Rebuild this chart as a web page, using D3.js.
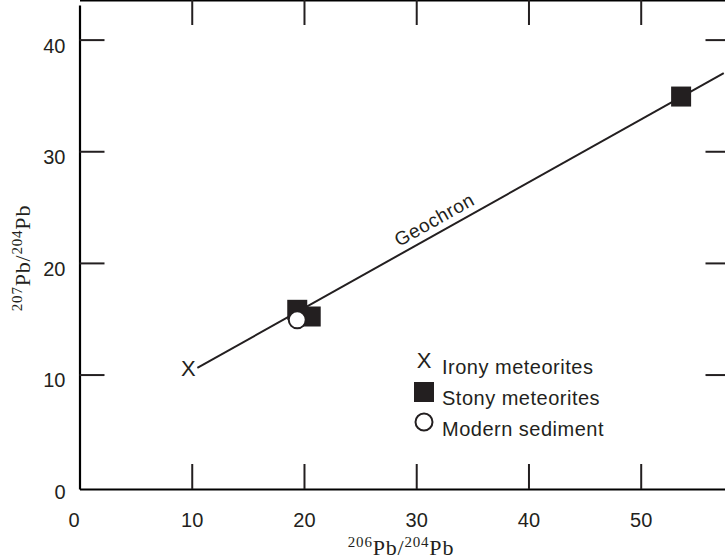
<!DOCTYPE html>
<meta charset="utf-8">
<style>
body { margin: 0; background: #fff; }
svg { display: block; }
.tick line { stroke: #231f20; stroke-width: 2px; }
.domain { stroke: #000; stroke-width: 2.2px; }
.tick text { font-family: "Liberation Sans", Arial, sans-serif; font-size: 20px; fill: #231f20; }
.legend text { font-family: "Liberation Sans", Arial, sans-serif; font-size: 20px; fill: #231f20; letter-spacing: 0.5px; }
.title { font-family: "Liberation Serif", "Times New Roman", serif; fill: #231f20; }
</style>
<svg width="725" height="560"></svg>
<script src="https://cdn.jsdelivr.net/npm/d3@7"></script>
<script>

// tick values
var xTicks = [0, 10, 20, 30, 40, 50];
var yTicks = [0, 10, 20, 30, 40];

// data (206Pb/204Pb, 207Pb/204Pb)
var irony = [[9.7, 10.6]];
var stony = [[19.4, 15.8], [20.6, 15.2], [53.6, 34.9]];
var sediment = [[19.4, 14.9]];
var geochron = [[10.5, 10.6], [57.4, 37.0]];

var legendItems = ["Irony meteorites", "Stony meteorites", "Modern sediment"];

var svg = d3.select("svg");
var ink = "#231f20";

var x = d3.scaleLinear().domain([0, 58]).range([79.5, 730.5]);
var y = d3.scaleLinear().domain([-0.25, 43.1]).range([489, 5]);

var left = x.range()[0], right = x.range()[1];
var bottom = y.range()[0], top = y.range()[1];
var tickLen = 25;

// bottom axis with labels, ticks pointing up
var gx = svg.append("g")
    .attr("transform", "translate(0," + bottom + ")")
    .call(d3.axisBottom(x).tickValues(xTicks).tickSizeInner(-tickLen).tickSizeOuter(0).tickPadding(0));
gx.selectAll(".tick text").attr("y", 38).attr("dy", 0);
gx.selectAll(".tick").filter(function(d) { return d === 0; }).select("text").attr("dx", -6);
gx.selectAll(".tick").filter(function(d) { return d === 0; }).select("line").remove();

// left axis with labels, ticks pointing right
var gy = svg.append("g")
    .attr("transform", "translate(" + left + ",0)")
    .call(d3.axisLeft(y).tickValues(yTicks).tickSizeInner(-tickLen).tickSizeOuter(0).tickPadding(14));
gy.selectAll(".tick text").attr("dy", "0.62em");
gy.selectAll(".tick").filter(function(d) { return d === 0; }).select("line").remove();

// top and right frame, no labels
svg.append("g")
    .attr("transform", "translate(0," + top + ")")
    .call(d3.axisTop(x).tickValues(xTicks.slice(1)).tickSizeInner(-tickLen).tickSizeOuter(0).tickFormat(""));

svg.append("g")
    .attr("transform", "translate(" + right + ",0)")
    .call(d3.axisRight(y).tickValues(yTicks.slice(1)).tickSizeInner(-tickLen).tickSizeOuter(0).tickFormat(""));

svg.selectAll(".domain").attr("stroke", "#000");

// Geochron line
var line = d3.line()
    .x(function(d) { return x(d[0]); })
    .y(function(d) { return y(d[1]); });

svg.append("path")
    .datum(geochron)
    .attr("fill", "none")
    .attr("stroke", ink)
    .attr("stroke-width", 2)
    .attr("d", line);

var p0 = geochron[0], p1 = geochron[1];
var angle = Math.atan2(y(p1[1]) - y(p0[1]), x(p1[0]) - x(p0[0])) * 180 / Math.PI;
var lx = 32.2;
var ly = p0[1] + (p1[1] - p0[1]) * (lx - p0[0]) / (p1[0] - p0[0]);
svg.append("text")
    .attr("transform", "translate(" + x(lx) + "," + y(ly) + ") rotate(" + angle + ")")
    .attr("dy", -7)
    .attr("text-anchor", "middle")
    .style("font-family", "Liberation Sans, Arial, sans-serif")
    .style("font-size", "19px")
    .style("letter-spacing", "0.6px")
    .attr("fill", ink)
    .text("Geochron");

// irony meteorites drawn as an X glyph
svg.selectAll(".irony")
    .data(irony)
    .enter().append("text")
    .attr("class", "irony")
    .attr("x", function(d) { return x(d[0]); })
    .attr("y", function(d) { return y(d[1]); })
    .attr("dy", "0.36em")
    .attr("text-anchor", "middle")
    .style("font-family", "Liberation Sans, Arial, sans-serif")
    .style("font-size", "22px")
    .attr("fill", ink)
    .text("X");

// stony meteorites
var sq = 20;
svg.selectAll(".stony")
    .data(stony)
    .enter().append("rect")
    .attr("class", "stony")
    .attr("x", function(d) { return x(d[0]) - sq / 2; })
    .attr("y", function(d) { return y(d[1]) - sq / 2; })
    .attr("width", sq)
    .attr("height", sq)
    .attr("fill", ink);

// modern sediment
svg.selectAll(".sediment")
    .data(sediment)
    .enter().append("circle")
    .attr("class", "sediment")
    .attr("cx", function(d) { return x(d[0]); })
    .attr("cy", function(d) { return y(d[1]); })
    .attr("r", 8.5)
    .attr("fill", "#fff")
    .attr("stroke", ink)
    .attr("stroke-width", 2);

// legend
var legend = svg.append("g").attr("class", "legend").attr("transform", "translate(424,0)");
var rowY = [360, 392, 422];

legend.append("text").attr("x", 0).attr("y", rowY[0]).attr("dy", "0.36em")
    .attr("text-anchor", "middle").style("font-size", "22px").style("letter-spacing", "0").text("X");
legend.append("rect").attr("x", -10).attr("y", rowY[1] - 10).attr("width", 20).attr("height", 20).attr("fill", ink);
legend.append("circle").attr("cx", 0).attr("cy", rowY[2]).attr("r", 8.5)
    .attr("fill", "#fff").attr("stroke", ink).attr("stroke-width", 2);

legend.selectAll(".label")
    .data(legendItems)
    .enter().append("text")
    .attr("class", "label")
    .attr("x", 18)
    .attr("y", function(d, i) { return [373.5, 405, 436][i]; })
    .text(function(d) { return d; });

// axis titles
var xt = svg.append("text").attr("class", "title")
    .attr("x", 401).attr("y", 555).attr("text-anchor", "middle")
    .style("letter-spacing", "0.8px");
xt.append("tspan").style("font-size", "15px").attr("dy", -8).text("206");
xt.append("tspan").style("font-size", "22px").attr("dy", 8).text("Pb/");
xt.append("tspan").style("font-size", "15px").attr("dy", -8).text("204");
xt.append("tspan").style("font-size", "22px").attr("dy", 8).text("Pb");

var yt = svg.append("text").attr("class", "title")
    .attr("transform", "translate(30,258) rotate(-90)")
    .attr("text-anchor", "middle")
    .style("letter-spacing", "0.8px");
yt.append("tspan").style("font-size", "15px").attr("dy", -8).text("207");
yt.append("tspan").style("font-size", "22px").attr("dy", 8).text("Pb/");
yt.append("tspan").style("font-size", "15px").attr("dy", -8).text("204");
yt.append("tspan").style("font-size", "22px").attr("dy", 8).text("Pb");

</script>
